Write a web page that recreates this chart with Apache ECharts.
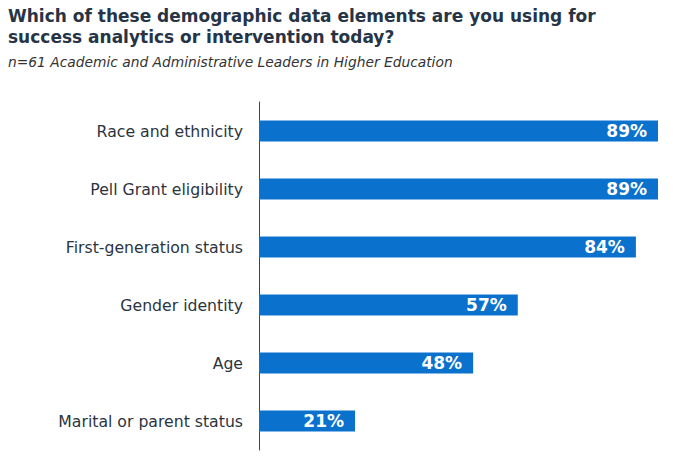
<!DOCTYPE html>
<html>
<head>
<meta charset="utf-8">
<script src="https://cdn.jsdelivr.net/npm/echarts@6/dist/echarts.min.js"></script>
<style>
  html, body { margin: 0; padding: 0; background: #fff; }
  #chart { width: 684px; height: 461px; }
</style>
</head>
<body>
<div id="chart"></div>
<script>
// data (bar lengths match n=61 shares, labels are rounded)
const categories = [
  'Race and ethnicity',
  'Pell Grant eligibility',
  'First-generation status',
  'Gender identity',
  'Age',
  'Marital or parent status'
];
const shares = [88.5, 88.5, 83.6, 57.4, 47.5, 21.3];

const titleText = 'Which of these demographic data elements are you using for\nsuccess analytics or intervention today?';
const subtitleText = 'n=61 Academic and Administrative Leaders in Higher Education';

const chart = echarts.init(document.getElementById('chart'), null, { renderer: 'svg' });

chart.setOption({
  animation: false,
  title: {
    text: titleText,
    subtext: subtitleText,
    left: 8,
    top: 5,
    padding: 0,
    itemGap: 8,
    textStyle: {
      fontFamily: 'DejaVu Sans',
      fontWeight: 'bold',
      fontSize: 17,
      lineHeight: 21,
      color: '#263445'
    },
    subtextStyle: {
      fontFamily: 'DejaVu Sans',
      fontStyle: 'italic',
      fontSize: 13.8,
      color: '#333'
    }
  },
  grid: {
    left: 259,
    right: 26,
    top: 102,
    bottom: 11,
    containLabel: false
  },
  xAxis: {
    type: 'value',
    min: 0,
    max: 'dataMax',
    show: false
  },
  yAxis: {
    type: 'category',
    data: categories,
    inverse: true,
    axisLine: { show: true, lineStyle: { color: '#444', width: 1 } },
    axisTick: { show: false },
    axisLabel: {
      margin: 16,
      fontFamily: 'DejaVu Sans',
      fontSize: 15.7,
      color: '#2b3540'
    }
  },
  series: [{
    type: 'bar',
    data: shares,
    barWidth: 21,
    itemStyle: { color: '#0a72cd' },
    label: {
      show: true,
      position: 'insideRight',
      distance: 11,
      formatter: p => Math.round(p.value) + '%',
      fontFamily: 'DejaVu Sans',
      fontWeight: 'bold',
      fontSize: 17,
      color: '#fff'
    }
  }]
});
</script>
</body>
</html>
